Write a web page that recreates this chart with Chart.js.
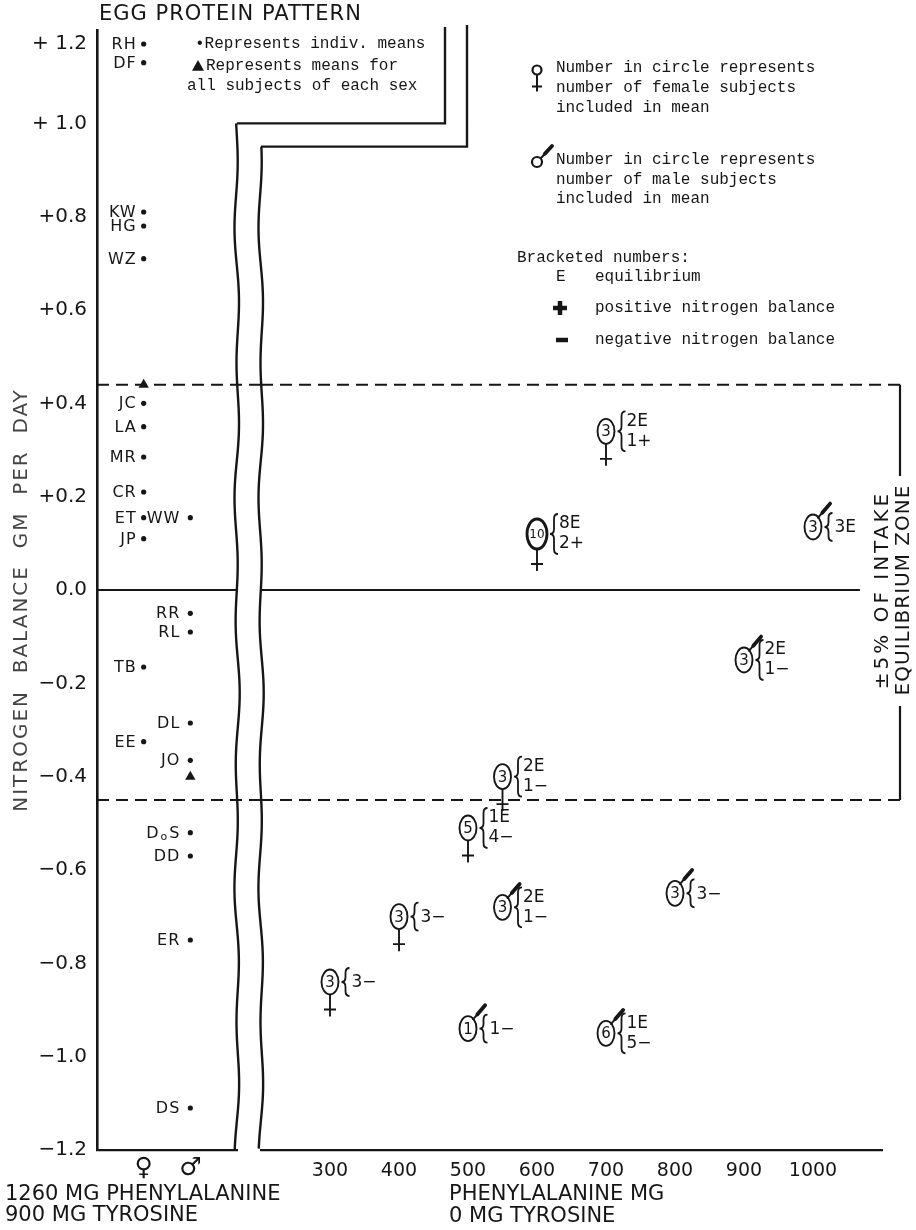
<!DOCTYPE html>
<html>
<head>
<meta charset="utf-8">
<script src="https://cdn.jsdelivr.net/npm/chart.js@4.4.0/dist/chart.umd.min.js"></script>
<style>
  html, body { margin: 0; padding: 0; background: #fff; }
  #wrap { position: relative; width: 916px; height: 1230px; background: #fff; }
  #wrap canvas { position: absolute; left: 0; top: 0; }
</style>
</head>
<body>
<div id="wrap">
  <canvas id="eggChart" width="916" height="1230"></canvas>
  <canvas id="pheChart" width="916" height="1230"></canvas>
</div>
<script>
const INK = '#161616';
const SANS = '"DejaVu Sans", "Liberation Sans", sans-serif';
const MONO = '"Liberation Mono", "DejaVu Sans Mono", monospace';

// shared y axis: nitrogen balance, gm per day
const yTickValues = [1.2, 1.0, 0.8, 0.6, 0.4, 0.2, 0, -0.2, -0.4, -0.6, -0.8, -1.0, -1.2];
const yTickLabels = ['+ 1.2', '+ 1.0', '+0.8', '+0.6', '+0.4', '+0.2', '0.0', '−0.2', '−0.4', '−0.6', '−0.8', '−1.0', '−1.2'];

// left panel: egg protein pattern, individual means
const femaleInitials = ['RH', 'DF', 'KW', 'HG', 'WZ', 'JC', 'LA', 'MR', 'CR', 'ET', 'JP', 'TB', 'EE'];
const femaleEggBal = [1.17, 1.13, 0.81, 0.78, 0.71, 0.40, 0.35, 0.285, 0.21, 0.155, 0.11, -0.165, -0.325];
const maleInitials = ['WW', 'RR', 'RL', 'DL', 'JO', 'DoS', 'DD', 'ER', 'DS'];
const maleEggBal = [0.155, -0.05, -0.09, -0.285, -0.365, -0.52, -0.57, -0.75, -1.11];
const femaleMeanBal = [0.44];
const maleMeanBal = [-0.40];

// right panel: phenylalanine mg, 0 mg tyrosine (group means)
const xTickValues = [300, 400, 500, 600, 700, 800, 900, 1000];
const femaleMg = [300, 400, 500, 550, 600, 700];
const femaleBal = [-0.84, -0.70, -0.51, -0.40, 0.12, 0.34];
const femaleN = [3, 3, 5, 3, 10, 3];
const femaleBrackets = [['3−'], ['3−'], ['1E', '4−'], ['2E', '1−'], ['8E', '2+'], ['2E', '1+']];
const maleMg = [500, 550, 700, 800, 900, 1000];
const maleBal = [-0.94, -0.68, -0.95, -0.65, -0.15, 0.135];
const maleN = [1, 3, 6, 3, 3, 3];
const maleBrackets = [['1−'], ['2E', '1−'], ['1E', '5−'], ['3−'], ['2E', '1−'], ['3E']];

// +-5% of intake equilibrium zone
const zoneUpper = 0.44;
const zoneLower = -0.45;

function text(ctx, str, x, y, font, opts = {}) {
  ctx.save();
  ctx.font = font;
  ctx.fillStyle = opts.color || INK;
  ctx.textAlign = opts.align || 'left';
  ctx.textBaseline = 'middle';
  if (opts.spacing) ctx.letterSpacing = opts.spacing + 'px';
  if (opts.rotate) {
    ctx.translate(x, y);
    ctx.rotate(opts.rotate);
    ctx.fillText(str, 0, 0);
  } else {
    ctx.fillText(str, x, y);
  }
  ctx.restore();
}

function line(ctx, x1, y1, x2, y2, w, dash) {
  ctx.save();
  ctx.strokeStyle = INK;
  ctx.lineWidth = w;
  if (dash) ctx.setLineDash(dash);
  ctx.beginPath();
  ctx.moveTo(x1, y1);
  ctx.lineTo(x2, y2);
  ctx.stroke();
  ctx.restore();
}

function wavyLine(ctx, x, y0, y1, w) {
  ctx.save();
  ctx.strokeStyle = INK;
  ctx.lineWidth = w;
  ctx.beginPath();
  for (let yy = y0; yy <= y1; yy += 3) {
    const dx = 1.6 * Math.sin(yy / 21) + 1.1 * Math.sin(yy / 53 + 1);
    if (yy === y0) ctx.moveTo(x + dx, yy); else ctx.lineTo(x + dx, yy);
  }
  ctx.stroke();
  ctx.restore();
}

function drawInitials(ctx, txt, xRight, y) {
  if (txt !== 'DoS') {
    ctx.fillText(txt, xRight, y);
    return;
  }
  const wS = ctx.measureText('S').width;
  ctx.fillText('S', xRight, y);
  ctx.save();
  ctx.font = '11px ' + SANS;
  const wo = ctx.measureText('o').width;
  ctx.fillText('o', xRight - wS - 1, y + 3);
  ctx.restore();
  ctx.fillText('D', xRight - wS - wo - 2, y);
}

function femaleTail(ctx, cx, yTop, len, half, crossAt, w) {
  ctx.save();
  ctx.strokeStyle = INK;
  ctx.lineWidth = w;
  ctx.beginPath();
  ctx.moveTo(cx, yTop);
  ctx.lineTo(cx, yTop + len);
  ctx.moveTo(cx - half, yTop + crossAt);
  ctx.lineTo(cx + half, yTop + crossAt);
  ctx.stroke();
  ctx.restore();
}

function maleTail(ctx, sx, sy, dx, dy) {
  ctx.save();
  ctx.strokeStyle = INK;
  ctx.lineCap = 'round';
  ctx.lineWidth = 2;
  ctx.beginPath();
  ctx.moveTo(sx, sy);
  ctx.lineTo(sx + dx * 0.5, sy + dy * 0.5);
  ctx.stroke();
  ctx.lineWidth = 3.8;
  ctx.beginPath();
  ctx.moveTo(sx + dx * 0.35, sy + dy * 0.35);
  ctx.lineTo(sx + dx, sy + dy);
  ctx.stroke();
  ctx.restore();
}

function drawBrace(ctx, x, cy, h) {
  const hh = h / 2, w = 4;
  ctx.save();
  ctx.strokeStyle = INK;
  ctx.lineWidth = 1.8;
  ctx.beginPath();
  ctx.moveTo(x + w, cy - hh);
  ctx.quadraticCurveTo(x, cy - hh, x, cy - hh + 5);
  ctx.lineTo(x, cy - 5);
  ctx.quadraticCurveTo(x, cy, x - w, cy);
  ctx.quadraticCurveTo(x, cy, x, cy + 5);
  ctx.lineTo(x, cy + hh - 5);
  ctx.quadraticCurveTo(x, cy + hh, x + w, cy + hh);
  ctx.stroke();
  ctx.restore();
}

function drawGroupMarker(ctx, cx, cy, n, lines, sex) {
  const big = n >= 10;
  const rx = big ? 10 : 8.5, ry = big ? 15 : 12.5;
  ctx.save();
  ctx.strokeStyle = INK;
  ctx.lineWidth = big ? 2.8 : 1.9;
  ctx.beginPath();
  ctx.ellipse(cx, cy, rx, ry, 0, 0, Math.PI * 2);
  ctx.stroke();
  ctx.restore();
  text(ctx, String(n), cx, cy + 1, (big ? '12px ' : '15px ') + SANS, { align: 'center' });
  if (sex === 'f') femaleTail(ctx, cx, cy + ry, 22, 6, 15, 1.9);
  else maleTail(ctx, cx + rx * 0.6, cy - ry * 0.75, 12, -14);
  const bx = cx + rx + 7;
  const font = '17px ' + SANS;
  if (lines.length > 1) {
    drawBrace(ctx, bx, cy, 40);
    text(ctx, lines[0], bx + 5, cy - 10, font);
    text(ctx, lines[1], bx + 5, cy + 10, font);
  } else {
    drawBrace(ctx, bx, cy, 28);
    text(ctx, lines[0], bx + 6, cy + 1, font);
  }
}

function drawTriangle(ctx, x, y, r) {
  ctx.save();
  ctx.fillStyle = INK;
  ctx.beginPath();
  ctx.moveTo(x, y - r);
  ctx.lineTo(x + r, y + r * 0.8);
  ctx.lineTo(x - r, y + r * 0.8);
  ctx.closePath();
  ctx.fill();
  ctx.restore();
}

const eggDecor = {
  id: 'eggDecor',
  afterDatasetsDraw(chart) {
    const { ctx, chartArea: a, scales: { y } } = chart;
    ctx.save();
    ctx.font = '16px ' + SANS;
    ctx.letterSpacing = '1px';
    ctx.fillStyle = INK;
    ctx.textAlign = 'right';
    ctx.textBaseline = 'middle';
    [[0, femaleInitials, 7], [1, maleInitials, 10]].forEach(([di, names, gap]) => {
      chart.getDatasetMeta(di).data.forEach((pt, i) => drawInitials(ctx, names[i], pt.x - gap, pt.y + 1));
    });
    ctx.restore();

    // top tick label sits a little below its tick in the original
    text(ctx, yTickLabels[0], a.left - 10, y.getPixelForValue(1.2) + 14, '20px ' + SANS, { align: 'right' });

    // broken right edge of the left panel
    wavyLine(ctx, a.right, y.getPixelForValue(1.0), a.bottom, 2.4);
    // zone lines and zero line
    line(ctx, a.left, y.getPixelForValue(zoneUpper), a.right + 25, y.getPixelForValue(zoneUpper), 2, [12, 7]);
    line(ctx, a.left, y.getPixelForValue(zoneLower), a.right + 25, y.getPixelForValue(zoneLower), 2, [12, 7]);
    line(ctx, a.left, y.getPixelForValue(0), a.right, y.getPixelForValue(0), 2.2);

    // titles and notes
    text(ctx, 'EGG PROTEIN PATTERN', a.left + 2, 15, '21px ' + SANS, { spacing: 1 });
    text(ctx, '•Represents indiv. means', 195, 44, '16px ' + MONO);
    drawTriangle(ctx, 198, 66, 6);
    text(ctx, 'Represents means for', 206, 66, '16px ' + MONO);
    text(ctx, 'all subjects of each sex', 187, 86, '16px ' + MONO);
    text(ctx, 'NITROGEN  BALANCE  GM  PER  DAY', 22, 600, '20px ' + SANS,
      { align: 'center', rotate: -Math.PI / 2, spacing: 2, color: '#444' });
    text(ctx, '1260 MG PHENYLALANINE', 5, 1195, '21px ' + SANS);
    text(ctx, '900 MG TYROSINE', 5, 1216, '21px ' + SANS);
  }
};

const pheDecor = {
  id: 'pheDecor',
  afterDatasetsDraw(chart) {
    const { ctx, chartArea: a, scales: { x, y } } = chart;
    const y0 = y.getPixelForValue(0);
    const yUp = y.getPixelForValue(zoneUpper);
    const yLo = y.getPixelForValue(zoneLower);
    const zoneX = a.right + 18;

    // broken left edge and the stepped connectors at the top
    wavyLine(ctx, a.left, y.getPixelForValue(0.95), a.bottom, 2.4);
    ctx.save();
    ctx.strokeStyle = INK;
    ctx.lineWidth = 2.4;
    ctx.beginPath();
    ctx.moveTo(a.left - 24, y.getPixelForValue(1.0));
    ctx.lineTo(a.left + 184, y.getPixelForValue(1.0));
    ctx.lineTo(a.left + 184, 27);
    ctx.moveTo(a.left, y.getPixelForValue(0.95));
    ctx.lineTo(a.left + 206, y.getPixelForValue(0.95));
    ctx.lineTo(a.left + 206, 25);
    ctx.stroke();
    ctx.restore();

    // zone lines, zero line, zone bracket
    line(ctx, a.left, yUp, zoneX, yUp, 2, [12, 7]);
    line(ctx, a.left, yLo, zoneX, yLo, 2, [12, 7]);
    line(ctx, a.left, y0, x.getPixelForValue(1068), y0, 2.2);
    line(ctx, zoneX, yUp, zoneX, y0 - 114, 2.2);
    line(ctx, zoneX, y0 + 116, zoneX, yLo, 2.2);
    text(ctx, '±5% OF INTAKE', zoneX - 17, y0, '20px ' + SANS, { align: 'center', rotate: -Math.PI / 2, spacing: 3 });
    text(ctx, 'EQUILIBRIUM ZONE', zoneX + 4, y0, '20px ' + SANS, { align: 'center', rotate: -Math.PI / 2, spacing: 1 });

    // group means
    [[0, femaleN, femaleBrackets, 'f'], [1, maleN, maleBrackets, 'm']].forEach(([di, counts, brackets, sex]) => {
      chart.getDatasetMeta(di).data.forEach((pt, i) => drawGroupMarker(ctx, pt.x, pt.y, counts[i], brackets[i], sex));
    });

    // notes (typewritten)
    const mono = '16px ' + MONO;
    ctx.save();
    ctx.strokeStyle = INK;
    ctx.lineWidth = 2.2;
    ctx.beginPath(); ctx.arc(537, 70, 4.5, 0, Math.PI * 2); ctx.stroke();
    ctx.beginPath(); ctx.arc(537, 162, 5, 0, Math.PI * 2); ctx.stroke();
    ctx.restore();
    femaleTail(ctx, 537, 74.5, 17, 5, 12, 2);
    maleTail(ctx, 541, 158, 11, -12);
    text(ctx, 'Number in circle represents', 556, 68, mono);
    text(ctx, 'number of female subjects', 556, 88, mono);
    text(ctx, 'included in mean', 556, 108, mono);
    text(ctx, 'Number in circle represents', 556, 160, mono);
    text(ctx, 'number of male subjects', 556, 180, mono);
    text(ctx, 'included in mean', 556, 199, mono);
    text(ctx, 'Bracketed numbers:', 517, 258, mono);
    text(ctx, 'E', 556, 277, mono);
    text(ctx, 'equilibrium', 595, 277, mono);
    line(ctx, 553, 308, 567, 308, 4.5);
    line(ctx, 560, 301, 560, 315, 4.5);
    text(ctx, 'positive nitrogen balance', 595, 308, mono);
    line(ctx, 556, 340, 568, 340, 4.5);
    text(ctx, 'negative nitrogen balance', 595, 340, mono);

    // axis title
    const tx = x.getPixelForValue(500) - 19;
    text(ctx, 'PHENYLALANINE MG', tx, 1195, '21px ' + SANS);
    text(ctx, '0 MG TYROSINE', tx, 1217, '21px ' + SANS);
  }
};

function yTickLabel(v) {
  if (Math.abs(v - 1.2) < 1e-6) return '';
  const i = yTickValues.findIndex(t => Math.abs(t - v) < 1e-6);
  return i >= 0 ? yTickLabels[i] : '';
}

new Chart(document.getElementById('eggChart'), {
  type: 'scatter',
  data: {
    datasets: [
      { label: 'female', data: femaleEggBal.map(v => ({ x: 1, y: v })), pointRadius: 2.6, pointBackgroundColor: INK, pointBorderWidth: 0 },
      { label: 'male', data: maleEggBal.map(v => ({ x: 2, y: v })), pointRadius: 2.6, pointBackgroundColor: INK, pointBorderWidth: 0 },
      { label: 'female mean', data: femaleMeanBal.map(v => ({ x: 1, y: v })), pointStyle: 'triangle', pointRadius: 6, pointBackgroundColor: INK, pointBorderWidth: 0 },
      { label: 'male mean', data: maleMeanBal.map(v => ({ x: 2, y: v })), pointStyle: 'triangle', pointRadius: 6, pointBackgroundColor: INK, pointBorderWidth: 0 }
    ]
  },
  options: {
    responsive: false,
    animation: false,
    layout: { padding: { left: 0, right: 916 - 237, top: 30, bottom: 0 } },
    plugins: { legend: { display: false }, tooltip: { enabled: false } },
    scales: {
      x: {
        type: 'linear', min: 0, max: 3,
        afterFit: s => { s.height = 80; },
        grid: { display: false, drawTicks: false },
        border: { display: true, color: INK, width: 2.2 },
        ticks: { stepSize: 1, autoSkip: false, padding: 3, color: INK, font: { family: SANS, size: 25 },
          callback: v => v === 1 ? '♀' : v === 2 ? '♂' : '' }
      },
      y: {
        min: -1.2, max: 1.2,
        afterFit: s => { s.width = 97; },
        grid: { display: false, drawTicks: false },
        border: { display: true, color: INK, width: 2.6 },
        ticks: { stepSize: 0.2, autoSkip: false, padding: 10, color: INK, font: { family: SANS, size: 20 }, callback: yTickLabel }
      }
    }
  },
  plugins: [eggDecor]
});

new Chart(document.getElementById('pheChart'), {
  type: 'scatter',
  data: {
    datasets: [
      { label: 'female groups', data: femaleMg.map((m, i) => ({ x: m, y: femaleBal[i] })), pointRadius: 0 },
      { label: 'male groups', data: maleMg.map((m, i) => ({ x: m, y: maleBal[i] })), pointRadius: 0 }
    ]
  },
  options: {
    responsive: false,
    animation: false,
    layout: { padding: { left: 261, right: 34, top: 30, bottom: 0 } },
    plugins: { legend: { display: false }, tooltip: { enabled: false } },
    scales: {
      x: {
        type: 'linear', min: 200, max: 1100,
        afterFit: s => { s.height = 80; },
        grid: { display: false, drawTicks: false },
        border: { display: true, color: INK, width: 2.2 },
        ticks: { stepSize: 100, autoSkip: false, padding: 10, color: INK, font: { family: SANS, size: 19 },
          callback: v => xTickValues.includes(v) ? String(v) : '' }
      },
      y: { display: false, min: -1.2, max: 1.2 }
    }
  },
  plugins: [pheDecor]
});
</script>
</body>
</html>
